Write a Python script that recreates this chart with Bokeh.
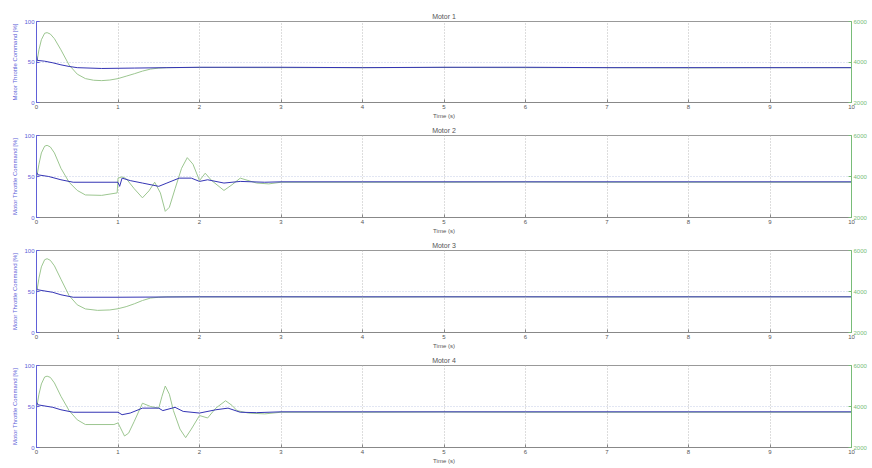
from bokeh.plotting import figure
from bokeh.models import LinearAxis, Range1d, FixedTicker
from bokeh.layouts import column
from bokeh.embed import file_html
from bokeh.resources import INLINE

titles = ["Motor 1", "Motor 2", "Motor 3", "Motor 4"]
x_ticks = [0, 1, 2, 3, 4, 5, 6, 7, 8, 9, 10]
left_ticks = [0, 50, 100]
right_ticks = [2000, 4000, 6000]

# Motor 1
m1_thr_t = [0, 0.01, 0.1, 0.2, 0.3, 0.4, 0.5, 0.8, 1.2, 1.6, 2, 3, 4, 5, 6, 7, 8, 9, 10]
m1_thr_v = [58, 52, 51, 49, 46.5, 44.5, 43, 42, 42.5, 43, 43.5, 43.5, 43, 43.5, 43.5, 43, 43, 43, 43]
m1_rpm_t = [0, 0.03, 0.06, 0.1, 0.13, 0.17, 0.22, 0.3, 0.4, 0.5, 0.6, 0.7, 0.8, 0.9, 1.0, 1.1, 1.2,
            1.3, 1.4, 1.5, 1.6, 2, 3, 4, 5, 6, 7, 8, 9, 10]
m1_rpm_v = [3900, 4600, 5100, 5420, 5450, 5380, 5150, 4600, 3850, 3400, 3180, 3100, 3080, 3110, 3180,
            3300, 3420, 3550, 3650, 3700, 3720, 3730, 3720, 3720, 3730, 3720, 3720, 3710, 3720, 3720]

# Motor 2
m2_thr_t = [0, 0.02, 0.15, 0.3, 0.45, 1.0, 1.02, 1.05, 1.15, 1.3, 1.5, 1.6, 1.75, 1.9, 2.0, 2.1, 2.3,
            2.5, 2.8, 3, 4, 5, 6, 7, 8, 9, 10]
m2_thr_v = [55, 52, 50, 46, 43, 43, 38, 48, 45, 42, 38, 42, 48, 48, 44, 46, 42, 44, 43, 43.5,
            43.5, 43.5, 43.5, 43.5, 43.5, 43.5, 43.5]
m2_rpm_t = [0, 0.03, 0.06, 0.1, 0.13, 0.17, 0.22, 0.3, 0.4, 0.5, 0.6, 0.8, 0.99, 1.0, 1.05, 1.1, 1.2,
            1.3, 1.38, 1.45, 1.52, 1.58, 1.63, 1.7, 1.78, 1.85, 1.92, 2.0, 2.07, 2.15, 2.3, 2.4, 2.5,
            2.7, 2.85, 3.0, 4, 5, 6, 7, 8, 9, 10]
m2_rpm_v = [3900, 4600, 5150, 5480, 5520, 5440, 5150, 4400, 3720, 3320, 3100, 3080, 3200, 3920, 3980,
            3900, 3400, 2960, 3300, 3720, 3200, 2300, 2500, 3400, 4400, 4920, 4600, 3800, 4160, 3800,
            3320, 3600, 3920, 3680, 3640, 3720, 3720, 3720, 3730, 3720, 3720, 3720, 3720]

# Motor 3
m3_thr_t = [0, 0.02, 0.2, 0.3, 0.45, 1, 2, 3, 4, 5, 6, 7, 8, 9, 10]
m3_thr_v = [54, 52, 49, 46, 43, 43, 43.5, 43.5, 43.5, 43.5, 43.5, 43.5, 43.5, 43.5, 43.5]
m3_rpm_t = [0, 0.03, 0.06, 0.1, 0.13, 0.17, 0.22, 0.3, 0.4, 0.5, 0.6, 0.75, 0.9, 1.0, 1.1, 1.2, 1.3,
            1.4, 1.5, 1.6, 2, 3, 4, 5, 6, 7, 8, 9, 10]
m3_rpm_v = [3900, 4650, 5200, 5550, 5600, 5520, 5250, 4600, 3800, 3350, 3150, 3080, 3100, 3160, 3260,
            3400, 3560, 3680, 3720, 3740, 3740, 3740, 3730, 3740, 3740, 3730, 3740, 3740, 3740]

# Motor 4
m4_thr_t = [0, 0.02, 0.2, 0.3, 0.45, 1.0, 1.05, 1.15, 1.3, 1.5, 1.55, 1.7, 1.8, 2.0, 2.2, 2.35, 2.5,
            2.7, 3, 4, 5, 6, 7, 8, 9, 10]
m4_thr_v = [55, 52, 49, 46, 43, 43, 40, 42, 48, 48, 45, 49, 44, 42, 46, 48, 43, 42.5, 43.5, 43.5,
            43.5, 43.5, 43.5, 43.5, 43.5, 43.5]
m4_rpm_t = [0, 0.03, 0.06, 0.1, 0.13, 0.17, 0.22, 0.3, 0.4, 0.5, 0.6, 0.95, 1.0, 1.05, 1.08, 1.13,
            1.2, 1.3, 1.4, 1.5, 1.54, 1.58, 1.63, 1.68, 1.76, 1.83, 1.9, 2.0, 2.1, 2.2, 2.32, 2.4,
            2.46, 2.6, 2.8, 3.0, 4, 5, 6, 7, 8, 9, 10]
m4_rpm_v = [3900, 4600, 5100, 5440, 5480, 5420, 5150, 4500, 3800, 3350, 3120, 3120, 3200, 2800, 2560,
            2700, 3280, 4160, 4000, 3920, 4500, 5000, 4600, 3800, 2900, 2480, 2900, 3560, 3440, 3920,
            4280, 4050, 3800, 3680, 3640, 3720, 3720, 3730, 3720, 3720, 3720, 3720, 3720]

thr_t = [m1_thr_t, m2_thr_t, m3_thr_t, m4_thr_t]
thr_v = [m1_thr_v, m2_thr_v, m3_thr_v, m4_thr_v]
rpm_t = [m1_rpm_t, m2_rpm_t, m3_rpm_t, m4_rpm_t]
rpm_v = [m1_rpm_v, m2_rpm_v, m3_rpm_v, m4_rpm_v]

BLUE_LINE = "#3434b4"
GREEN_LINE = "#9cc690"
BLUE_TXT = "#6060d8"
GREEN_TXT = "#78bc78"
FONT = "Liberation Sans"

tops = [21, 14, 14, 14]
frames = [81, 82, 82, 82]
bottoms = [19, 19, 19, 19]
figs = []
for i in range(4):
    h = tops[i] + frames[i] + bottoms[i]
    p = figure(width=870, height=h, x_range=Range1d(0, 10), y_range=Range1d(0, 100),
               output_backend="svg", toolbar_location=None,
               min_border_left=36, min_border_right=19, min_border_top=tops[i],
               min_border_bottom=bottoms[i])
    p.extra_y_ranges = {"rpm": Range1d(2000, 6000)}
    p.title.text = titles[i]
    p.title.align = "center"
    p.title.text_font_size = "7px"
    p.title.text_font_style = "normal"
    p.title.text_font = FONT
    p.title.text_color = "#555555"
    p.title.standoff = 3
    p.title.offset = 0

    p.xaxis.ticker = FixedTicker(ticks=x_ticks)
    p.xaxis.axis_label = "Time (s)"
    p.xaxis.axis_label_text_font_size = "6px"
    p.xaxis.axis_label_text_font_style = "normal"
    p.xaxis.axis_label_text_font = FONT
    p.xaxis.axis_label_text_color = "#555555"
    p.xaxis.axis_label_standoff = 1
    p.xaxis.major_label_text_font_size = "6px"
    p.xaxis.major_label_text_font = FONT
    p.xaxis.major_label_text_color = "#555555"
    p.xaxis.major_label_standoff = 2
    p.xaxis.major_tick_in = 3
    p.xaxis.major_tick_out = 0
    p.xaxis.minor_tick_line_color = None
    p.xaxis.axis_line_color = "#888888"
    p.xaxis.major_tick_line_color = "#888888"

    p.yaxis.ticker = FixedTicker(ticks=left_ticks)
    p.yaxis.axis_label = "Motor Throttle Command [%]"
    p.yaxis.axis_label_text_font_size = "6px"
    p.yaxis.axis_label_text_font_style = "normal"
    p.yaxis.axis_label_text_font = FONT
    p.yaxis.axis_label_text_color = BLUE_TXT
    p.yaxis.axis_label_standoff = 3
    p.yaxis.major_label_text_font_size = "6px"
    p.yaxis.major_label_text_font = FONT
    p.yaxis.major_label_text_color = BLUE_TXT
    p.yaxis.major_label_standoff = 2
    p.yaxis.major_tick_in = 3
    p.yaxis.major_tick_out = 0
    p.yaxis.minor_tick_line_color = None
    p.yaxis.axis_line_color = BLUE_TXT
    p.yaxis.major_tick_line_color = BLUE_TXT

    rax = LinearAxis(y_range_name="rpm", ticker=FixedTicker(ticks=right_ticks))
    rax.major_label_text_font_size = "6px"
    rax.major_label_text_font = FONT
    rax.major_label_text_color = GREEN_TXT
    rax.major_label_standoff = 2
    rax.major_tick_in = 3
    rax.major_tick_out = 0
    rax.minor_tick_line_color = None
    rax.axis_line_color = GREEN_TXT
    rax.major_tick_line_color = GREEN_TXT
    p.add_layout(rax, "right")

    p.xgrid.grid_line_color = "#bbbbbb"
    p.xgrid.grid_line_dash = "1 2"
    p.ygrid.grid_line_color = "#c4cde6"
    p.ygrid.grid_line_dash = "1 2"
    p.outline_line_color = "#999999"
    p.outline_line_width = 1

    p.line(rpm_t[i], rpm_v[i], color=GREEN_LINE, line_width=1, y_range_name="rpm")
    p.line(thr_t[i], thr_v[i], color=BLUE_LINE, line_width=1)
    figs.append(p)

layout = column(*figs, spacing=0)
open("out.html", "w").write(file_html(layout, INLINE))
